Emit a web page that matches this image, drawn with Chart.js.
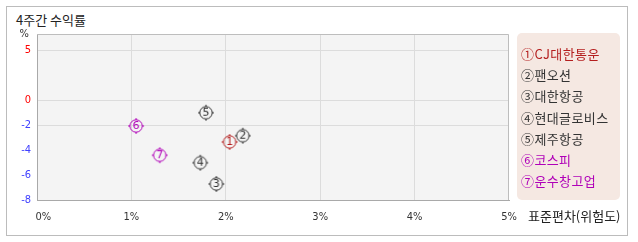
<!DOCTYPE html>
<html>
<head>
<meta charset="utf-8">
<script src="https://cdn.jsdelivr.net/npm/chart.js@4"></script>
<style>
  body { margin: 0; background: #fff; }
  #wrap { position: relative; width: 638px; height: 242px; overflow: hidden; font-family: "Noto Sans CJK KR", sans-serif; }
  #frame { position: absolute; left: 6px; top: 6px; width: 622px; height: 230px; box-sizing: border-box; border: 1px solid #bcbcbc; }
  #title { position: absolute; left: 16px; top: 11px; font-size: 13px; line-height: 18px; color: #222; }
  #legend { position: absolute; left: 517px; top: 33px; width: 103px; height: 167px; background: #f5e8e2; border-radius: 5px; }
  .item { position: absolute; left: 4px; font-size: 13px; line-height: 18px; letter-spacing: 0.4px; white-space: nowrap; }
  #xtitle { position: absolute; left: 528px; top: 207px; font-size: 13px; line-height: 18px; color: #222; }
  canvas { position: absolute; left: 0; top: 0; }
</style>
</head>
<body>
<div id="wrap">
  <div id="frame"></div>
  <div id="title">4주간 수익률</div>
  <canvas id="riskChart" width="638" height="242"></canvas>
  <div id="legend"></div>
  <div id="xtitle">표준편차(위험도)</div>
</div>
<script>
const names = ['CJ대한통운', '팬오션', '대한항공', '현대글로비스', '제주항공', '코스피', '운수창고업'];
const marks = ['①', '②', '③', '④', '⑤', '⑥', '⑦'];
const risk = [2.04, 2.18, 1.90, 1.73, 1.79, 1.05, 1.30];      // 표준편차 %
const returns = [-3.36, -2.86, -6.72, -5.02, -1.02, -2.08, -4.42]; // 4주 수익률 %
const colors = ['#b41e1e', '#333333', '#333333', '#333333', '#333333', '#b000b8', '#b000b8'];
const xTicks = [0, 1, 2, 3, 4, 5];
const yTicks = [-8, -6, -4, -2, 0, 5];

// the original axis squeezes the positive side (5 units above 0 take the room of 4 below)
function toAxis(v) { return v >= 0 ? v * 0.8 : v; }
const yTop = 5.28;

// legend
const legend = document.getElementById('legend');
names.forEach((n, i) => {
    const d = document.createElement('div');
    d.className = 'item';
    d.style.top = (12 + i * 21.2) + 'px';
    d.style.color = colors[i];
    d.textContent = marks[i] + n;
    legend.appendChild(d);
});

function makeMarker(num, color) {
    const c = document.createElement('canvas');
    c.width = 20; c.height = 20;
    const g = c.getContext('2d');
    const m = 10;
    g.strokeStyle = color;
    g.lineWidth = 1;
    g.beginPath();
    g.arc(m, m, 6.2, 0, Math.PI * 2);
    g.stroke();
    g.beginPath();
    g.moveTo(m, m - 8); g.lineTo(m, m - 6);
    g.moveTo(m, m + 6); g.lineTo(m, m + 8);
    g.moveTo(m - 8, m); g.lineTo(m - 6, m);
    g.moveTo(m + 6, m); g.lineTo(m + 8, m);
    g.stroke();
    g.fillStyle = color;
    g.font = '11px "DejaVu Sans", sans-serif';
    g.textAlign = 'center';
    g.textBaseline = 'middle';
    g.fillText(String(num), m, m + 0.5);
    return c;
}

const plotBg = {
    id: 'plotBg',
    beforeDraw(chart) {
        const a = chart.chartArea, ctx = chart.ctx;
        ctx.save();
        ctx.fillStyle = '#f4f4f4';
        ctx.fillRect(a.left, a.top, a.right - a.left, a.bottom - a.top);
        ctx.restore();
    },
    beforeDatasetsDraw(chart) {
        const a = chart.chartArea, ctx = chart.ctx;
        ctx.save();
        ctx.strokeStyle = '#bdbdbd';
        ctx.lineWidth = 1;
        ctx.beginPath();
        ctx.moveTo(a.left, a.top + 0.5);
        ctx.lineTo(a.right - 0.5, a.top + 0.5);
        ctx.lineTo(a.right - 0.5, a.bottom);
        ctx.stroke();
        ctx.restore();
    }
};

const tickFont = { family: '"Liberation Sans Narrow", "DejaVu Sans Condensed", "Liberation Sans", sans-serif', size: 11 };

new Chart(document.getElementById('riskChart'), {
    type: 'scatter',
    data: {
        datasets: [{
            data: risk.map((r, i) => ({ x: r, y: toAxis(returns[i]) })),
            pointStyle: marks.map((m, i) => makeMarker(i + 1, colors[i])),
            pointRadius: 10,
            pointHoverRadius: 10
        }]
    },
    options: {
        responsive: false,
        devicePixelRatio: 1,
        animation: false,
        events: [],
        layout: { padding: { left: 0, top: 34, right: 129, bottom: 0 } },
        plugins: { legend: { display: false }, tooltip: { enabled: false } },
        scales: {
            x: {
                type: 'linear',
                min: 0,
                max: 5,
                afterFit(s) { s.height = 42; },
                afterBuildTicks(s) { s.ticks = xTicks.map(v => ({ value: v })); },
                grid: {
                    drawTicks: false,
                    color: ctx => (ctx.tick && ctx.tick.value > 0 && ctx.tick.value < 5) ? '#dcdcdc' : 'rgba(0,0,0,0)'
                },
                border: { color: '#a9a9a9' },
                ticks: {
                    padding: 11,
                    color: '#333',
                    font: tickFont,
                    maxRotation: 0,
                    callback: v => (v === 0 ? '\u2007\u2007' : '') + v + '%'
                }
            },
            y: {
                type: 'linear',
                min: -8,
                max: yTop,
                afterFit(s) { s.width = 37; },
                afterBuildTicks(s) { s.ticks = yTicks.map(v => ({ value: toAxis(v) })).concat([{ value: yTop }]); },
                grid: {
                    drawTicks: false,
                    color: ctx => (ctx.tick && [0, -2, 4].includes(ctx.tick.value)) ? '#dcdcdc' : 'rgba(0,0,0,0)'
                },
                border: { color: '#a9a9a9' },
                ticks: {
                    padding: 6,
                    font: tickFont,
                    color: ctx => ctx.tick.value === yTop ? '#333' : (ctx.tick.value >= 0 ? '#ff0000' : '#4040ff'),
                    callback: v => v === yTop ? '%\u2009' : (v > 0 ? String(Math.round(v / 0.8)) : String(v))
                }
            }
        }
    },
    plugins: [plotBg]
});
</script>
</body>
</html>
